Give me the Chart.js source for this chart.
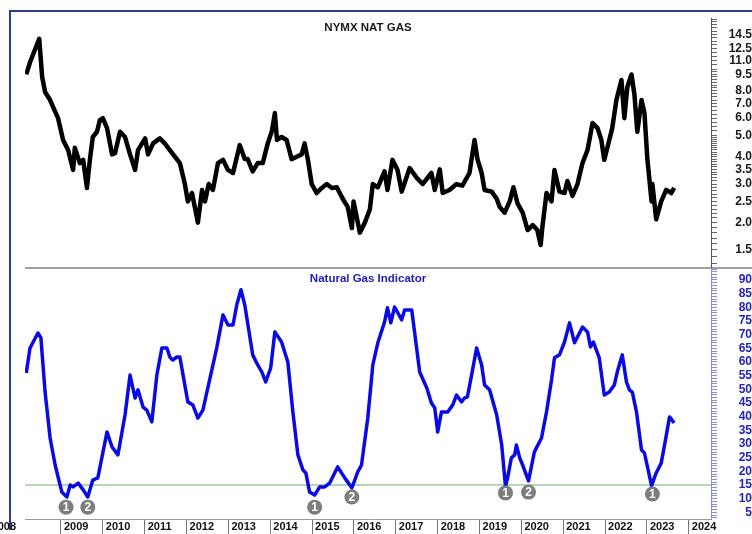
<!DOCTYPE html>
<html>
<head>
<meta charset="utf-8">
<title>NYMX Nat Gas / Natural Gas Indicator</title>
<script src="https://cdn.jsdelivr.net/npm/chart.js@4/dist/chart.umd.min.js"></script>
<style>
  html, body { margin: 0; padding: 0; background: #fff; overflow: hidden; }
  #wrap { position: relative; width: 752px; height: 534px; }
  #frame { position: absolute; left: 9px; top: 10px; width: 800px; height: 518px;
           border-left: 2px solid #2e3b8a; border-top: 2px solid #2e3b8a; }
  #sep { position: absolute; left: 25px; top: 267px; width: 727px; border-top: 2px solid #a0a0a0; }
  #priceChart { position: absolute; left: 0; top: 0; }
  #indChart { position: absolute; left: 0; top: 258px; }
</style>
</head>
<body>
<div id="wrap">
  <div id="frame"></div>
  <div id="sep"></div>
  <canvas id="priceChart" width="752" height="268"></canvas>
  <canvas id="indChart" width="752" height="276"></canvas>
</div>
<script>
// time axis, decimal years
var xMin = 2008.14;
var xMax = 2024.53;
var yearTicks = [2009, 2010, 2011, 2012, 2013, 2014, 2015, 2016, 2017, 2018, 2019, 2020, 2021, 2022, 2023, 2024];

// NYMX nat gas (log scale)
var gasYears = [2008.17, 2008.26, 2008.48, 2008.55, 2008.62, 2008.74, 2008.81, 2008.93, 2009.05, 2009.17,
  2009.29, 2009.33, 2009.45, 2009.53, 2009.62, 2009.69, 2009.76, 2009.86, 2009.93, 2010.00,
  2010.10, 2010.22, 2010.29, 2010.41, 2010.53, 2010.65, 2010.77, 2010.84, 2011.01, 2011.08,
  2011.20, 2011.36, 2011.48, 2011.60, 2011.72, 2011.84, 2011.96, 2012.03, 2012.13, 2012.27,
  2012.37, 2012.44, 2012.53, 2012.63, 2012.75, 2012.87, 2012.99, 2013.11, 2013.27, 2013.39,
  2013.46, 2013.58, 2013.70, 2013.82, 2013.94, 2014.04, 2014.11, 2014.16, 2014.27, 2014.39,
  2014.51, 2014.63, 2014.75, 2014.82, 2014.90, 2014.99, 2015.11, 2015.23, 2015.35, 2015.47,
  2015.59, 2015.73, 2015.85, 2015.95, 2015.99, 2016.14, 2016.26, 2016.38, 2016.45, 2016.57,
  2016.73, 2016.80, 2016.92, 2017.04, 2017.14, 2017.33, 2017.50, 2017.64, 2017.85, 2017.93,
  2018.05, 2018.12, 2018.28, 2018.45, 2018.59, 2018.76, 2018.88, 2018.95, 2019.05, 2019.12,
  2019.29, 2019.41, 2019.48, 2019.60, 2019.72, 2019.81, 2019.91, 2020.03, 2020.15, 2020.27,
  2020.38, 2020.46, 2020.50, 2020.60, 2020.72, 2020.79, 2020.91, 2021.03, 2021.10, 2021.22,
  2021.34, 2021.46, 2021.58, 2021.70, 2021.82, 2021.91, 2021.98, 2022.10, 2022.17, 2022.27,
  2022.39, 2022.46, 2022.53, 2022.63, 2022.70, 2022.77, 2022.87, 2022.94, 2023.01, 2023.11,
  2023.13, 2023.22, 2023.34, 2023.46, 2023.58, 2023.65];
var gasPrice = [9.5, 10.8, 13.8, 9.25, 7.9, 7.26, 6.75, 6.0, 4.77, 4.29,
  3.48, 4.4, 3.74, 3.87, 2.88, 3.87, 4.92, 5.2, 5.88, 6.0,
  5.4, 4.1, 4.15, 5.2, 4.92, 4.1, 3.48, 4.29, 4.85, 4.1,
  4.6, 4.85, 4.6, 4.29, 4.0, 3.74, 3.0, 2.5, 2.73, 2.0,
  2.82, 2.5, 3.0, 2.82, 3.74, 3.87, 3.48, 3.37, 4.52, 3.9,
  3.9, 3.43, 3.74, 3.74, 4.6, 5.25, 6.33, 4.77, 4.92, 4.77,
  3.9, 4.0, 4.1, 4.6, 3.87, 3.0, 2.73, 2.88, 3.0, 2.88,
  2.9, 2.57, 2.36, 1.89, 2.5, 1.8, 2.0, 2.3, 3.0, 2.9,
  3.43, 2.82, 3.87, 3.48, 2.77, 3.55, 3.2, 3.0, 3.37, 2.82,
  3.5, 2.73, 2.82, 3.0, 2.95, 3.37, 4.77, 3.9, 3.37, 2.82,
  2.77, 2.57, 2.36, 2.22, 2.5, 2.9, 2.44, 2.22, 1.85, 1.95,
  1.85, 1.58, 1.9, 2.73, 2.5, 3.48, 2.77, 2.73, 3.1, 2.65,
  3.0, 3.74, 4.29, 5.7, 5.4, 4.77, 3.87, 4.77, 5.4, 7.26,
  8.96, 6.0, 8.3, 9.5, 7.7, 5.2, 7.26, 6.33, 3.9, 2.5,
  3.0, 2.07, 2.5, 2.82, 2.73, 2.88];
var priceMin = 1.241;
var priceMax = 17.2;
var priceLabels = [1.5, 2.0, 2.5, 3.0, 3.5, 4.0, 5.0, 6.0, 7.0, 8.0, 9.5, 11.0, 12.5, 14.5];

// Natural Gas Indicator
var indYears = [2008.17, 2008.26, 2008.45, 2008.52, 2008.62, 2008.74, 2008.86, 2009.02, 2009.14, 2009.22,
  2009.29, 2009.41, 2009.53, 2009.64, 2009.76, 2009.88, 2010.10, 2010.22, 2010.36, 2010.53,
  2010.65, 2010.77, 2010.84, 2010.96, 2011.05, 2011.17, 2011.29, 2011.41, 2011.53, 2011.60,
  2011.67, 2011.77, 2011.84, 2012.03, 2012.15, 2012.27, 2012.39, 2012.56, 2012.72, 2012.87,
  2012.99, 2013.11, 2013.20, 2013.30, 2013.39, 2013.58, 2013.70, 2013.80, 2013.89, 2014.01,
  2014.11, 2014.27, 2014.42, 2014.54, 2014.66, 2014.78, 2014.85, 2014.94, 2015.06, 2015.18,
  2015.30, 2015.42, 2015.61, 2015.78, 2015.95, 2016.09, 2016.18, 2016.33, 2016.45, 2016.57,
  2016.73, 2016.80, 2016.88, 2016.97, 2017.14, 2017.21, 2017.38, 2017.57, 2017.74, 2017.85,
  2017.93, 2018.00, 2018.09, 2018.24, 2018.36, 2018.45, 2018.57, 2018.64, 2018.71, 2018.81,
  2018.93, 2019.05, 2019.12, 2019.24, 2019.41, 2019.53, 2019.62, 2019.67, 2019.76, 2019.84,
  2019.88, 2019.96, 2020.03, 2020.17, 2020.31, 2020.48, 2020.60, 2020.72, 2020.79, 2020.91,
  2021.03, 2021.15, 2021.27, 2021.46, 2021.58, 2021.65, 2021.72, 2021.86, 2021.98, 2022.10,
  2022.22, 2022.29, 2022.41, 2022.51, 2022.58, 2022.65, 2022.75, 2022.87, 2022.94, 2023.11,
  2023.22, 2023.34, 2023.42, 2023.54, 2023.65];
var indValue = [56.0, 65.1, 70.6, 68.8, 49.0, 32.2, 22.3, 12.4, 10.6, 15.0,
  14.3, 15.7, 13.2, 10.6, 16.8, 17.6, 34.4, 28.9, 26.0, 40.6,
  55.2, 46.8, 49.8, 43.5, 42.4, 38.1, 55.2, 65.1, 65.1, 61.8,
  60.7, 61.8, 61.8, 45.4, 44.3, 39.5, 42.4, 54.1, 65.1, 77.2,
  73.5, 73.5, 80.9, 86.4, 80.9, 62.6, 58.9, 56.3, 52.7, 57.8,
  71.0, 67.3, 60.0, 41.7, 26.0, 20.5, 19.4, 12.4, 11.3, 14.3,
  14.3, 15.7, 21.6, 17.6, 13.9, 19.8, 22.3, 39.5, 58.9, 67.0,
  74.6, 79.8, 74.3, 80.1, 75.4, 79.0, 79.0, 56.3, 50.5, 45.0,
  43.2, 34.4, 41.7, 41.7, 44.3, 47.9, 45.4, 46.8, 47.2, 55.2,
  65.1, 58.9, 51.6, 49.8, 40.6, 29.6, 14.5, 17.6, 24.9, 26.0,
  29.6, 24.9, 22.3, 16.5, 27.1, 32.2, 41.7, 53.4, 61.5, 62.6,
  67.3, 74.3, 67.0, 72.8, 71.0, 65.5, 67.3, 61.5, 47.9, 49.0,
  51.6, 56.3, 62.6, 52.7, 49.8, 49.0, 41.7, 27.8, 26.7, 14.8,
  19.4, 23.0, 29.6, 39.9, 37.7];
var indMin = 2.56;
var indMax = 94;
var signalLevel = 15;

// buy signal markers
var markerYears = [2009.12, 2009.64, 2015.06, 2015.95, 2019.62, 2020.17, 2023.13];
var markerLevels = [6.9, 6.9, 6.9, 10.6, 12.1, 12.4, 11.7];
var markerLabels = ['1', '2', '1', '2', '1', '2', '1'];

var fontFamily = "'Liberation Sans', Arial, sans-serif";

function toPoints(xs, ys) {
  return xs.map(function (x, i) { return { x: x, y: ys[i] }; });
}

// keep the plot area exactly where the layout padding puts it
function noPad(s) {
  s.paddingTop = 0;
  s.paddingBottom = 0;
  s.paddingLeft = 0;
  s.paddingRight = 0;
}

// title + marker digits drawn on top of the datasets
var panelText = {
  id: 'panelText',
  afterDatasetsDraw: function (chart, args, opts) {
    var ctx = chart.ctx;
    var area = chart.chartArea;
    ctx.save();
    ctx.textAlign = 'center';
    ctx.textBaseline = 'middle';
    ctx.font = 'bold 11.5px ' + fontFamily;
    ctx.fillStyle = opts.color;
    ctx.fillText(opts.title, (area.left + area.right) / 2, area.top + 10);

    if (opts.markerDataset !== undefined) {
      var meta = chart.getDatasetMeta(opts.markerDataset);
      ctx.font = 'bold 12px ' + fontFamily;
      ctx.fillStyle = '#ffffff';
      meta.data.forEach(function (pt, i) {
        ctx.fillText(markerLabels[i], pt.x, pt.y + 0.5);
      });
      // first year label is cut off at the left edge
      ctx.textAlign = 'right';
      ctx.font = 'bold 11px ' + fontFamily;
      ctx.fillStyle = '#111';
      ctx.fillText('2008', 16, area.bottom + 8);
    }
    ctx.restore();
  }
};

// minor tick positions: fine at the bottom, coarser higher up
var priceTicks = [];
for (var p = 13; p <= 50; p++) { priceTicks.push(p / 10); }
for (var p2 = 21; p2 <= 40; p2++) { priceTicks.push(p2 / 4); }
for (var p3 = 21; p3 <= 34; p3++) { priceTicks.push(p3 / 2); }
var indTicks = [];
for (var q = 3; q <= 94; q++) { indTicks.push(q); }

new Chart(document.getElementById('priceChart'), {
  type: 'line',
  data: {
    datasets: [{
      data: toPoints(gasYears, gasPrice),
      borderColor: '#000000',
      borderWidth: 4.5,
      borderJoinStyle: 'round',
      pointRadius: 0,
      tension: 0
    }]
  },
  options: {
    responsive: false,
    animation: false,
    events: [],
    layout: { padding: { left: 25, top: 18, right: 0, bottom: 0 } },
    plugins: {
      legend: { display: false },
      tooltip: { enabled: false },
      panelText: { title: 'NYMX NAT GAS', color: '#1a1a1a' }
    },
    scales: {
      x: { type: 'linear', min: xMin, max: xMax, display: false },
      y: {
        type: 'logarithmic',
        position: 'right',
        min: priceMin,
        max: priceMax,
        afterBuildTicks: function (s) { s.ticks = priceTicks.map(function (v) { return { value: v }; }); },
        afterFit: function (s) { s.width = 41; noPad(s); },
        grid: { drawOnChartArea: false, tickLength: 6, color: '#666' },
        border: { color: '#555' },
        ticks: {
          autoSkip: false,
          crossAlign: 'far',
          padding: 7,
          color: '#1a1a1a',
          font: { family: fontFamily, size: 12, weight: 'bold' },
          callback: function (v) {
            var r = Math.round(v * 10) / 10;
            return priceLabels.indexOf(r) >= 0 ? r.toFixed(1) : '';
          }
        }
      }
    }
  },
  plugins: [panelText]
});

new Chart(document.getElementById('indChart'), {
  type: 'line',
  data: {
    datasets: [{
      data: toPoints(indYears, indValue),
      borderColor: '#0a0ae6',
      borderWidth: 3.5,
      borderJoinStyle: 'round',
      pointRadius: 0,
      tension: 0,
      order: 1
    }, {
      data: [{ x: xMin, y: signalLevel }, { x: xMax, y: signalLevel }],
      borderColor: '#6aae6a',
      borderWidth: 1,
      pointRadius: 0,
      order: 2
    }, {
      type: 'scatter',
      data: toPoints(markerYears, markerLevels),
      backgroundColor: '#7d7d7d',
      borderWidth: 0,
      pointRadius: 7.5,
      order: 0
    }]
  },
  options: {
    responsive: false,
    animation: false,
    events: [],
    layout: { padding: { left: 25, top: 11, right: 0, bottom: 0 } },
    plugins: {
      legend: { display: false },
      tooltip: { enabled: false },
      panelText: { title: 'Natural Gas Indicator', color: '#1c1cc4', markerDataset: 2 }
    },
    scales: {
      x: {
        type: 'linear',
        min: xMin,
        max: xMax,
        afterBuildTicks: function (s) { s.ticks = yearTicks.map(function (v) { return { value: v }; }); },
        afterFit: function (s) { s.height = 15; noPad(s); },
        grid: { drawOnChartArea: false, tickLength: 15, color: '#777' },
        border: { color: '#9a9a9a' },
        ticks: {
          autoSkip: false,
          maxRotation: 0,
          align: 'start',
          labelOffset: 3,
          padding: -14,
          color: '#111',
          font: { family: fontFamily, size: 11, weight: 'bold' },
          callback: function (v) { return String(v); }
        }
      },
      y: {
        type: 'linear',
        position: 'right',
        min: indMin,
        max: indMax,
        afterBuildTicks: function (s) { s.ticks = indTicks.map(function (v) { return { value: v }; }); },
        afterFit: function (s) { s.width = 41; noPad(s); },
        grid: { drawOnChartArea: false, tickLength: 6, color: '#8c8cdc' },
        border: { color: '#8c8cdc' },
        ticks: {
          autoSkip: false,
          crossAlign: 'far',
          padding: 17,
          color: '#2424bc',
          font: { family: fontFamily, size: 12, weight: 'bold' },
          callback: function (v) { return v % 5 === 0 && v <= 90 ? String(v) : ''; }
        }
      }
    }
  },
  plugins: [panelText]
});
</script>
</body>
</html>
